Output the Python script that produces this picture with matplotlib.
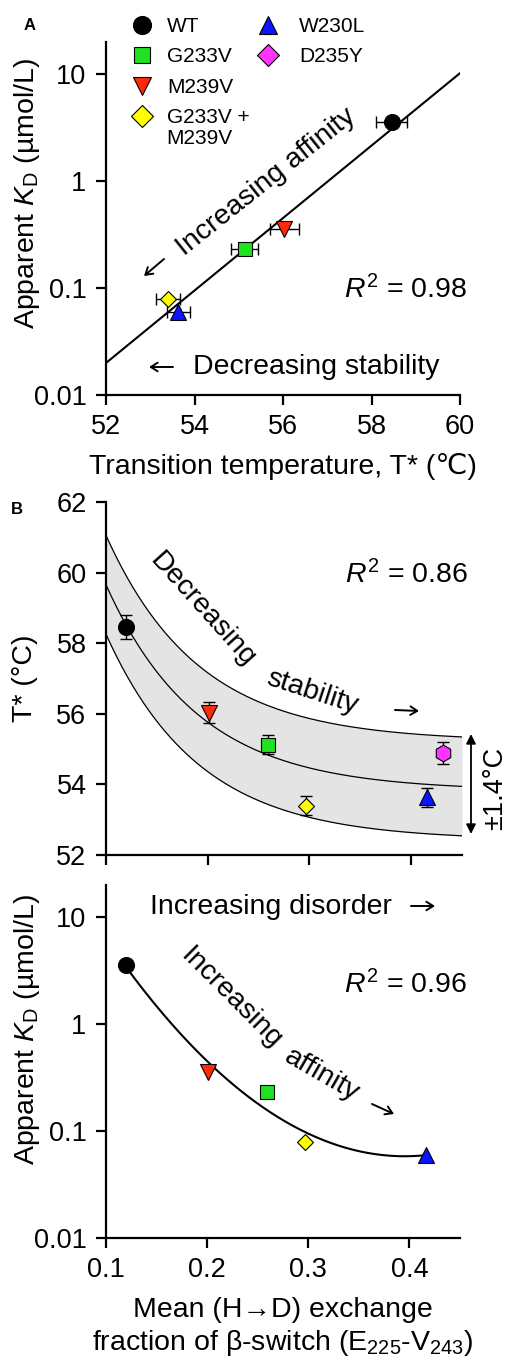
import numpy as np
import matplotlib
matplotlib.use("Agg")
import matplotlib.pyplot as plt
from matplotlib.lines import Line2D
from matplotlib.patches import FancyArrowPatch

plt.rcParams["font.family"] = ["Liberation Sans", "DejaVu Sans"]
plt.rcParams["mathtext.fontset"] = "custom"
plt.rcParams["mathtext.rm"] = "Liberation Sans"
plt.rcParams["mathtext.it"] = "Liberation Sans:italic"

# data
variants = ["WT", "G233V", "M239V", "G233V +\nM239V", "W230L", "D235Y"]
colors = ["#000000", "#22e022", "#ff2a0a", "#ffff00", "#0a14ff", "#ff33ff"]
legend_markers = ["o", "s", "v", "D", "^", "D"]
plot_markers = ["o", "s", "v", "D", "^", "h"]

t_star = [58.46, 55.13, 56.03, 53.40, 53.63, 54.89]      # transition temperature (C)
t_err_a = [0.35, 0.30, 0.33, 0.27, 0.26]                 # horizontal error bars, panel A
t_err_b = [0.35, 0.28, 0.30, 0.28, 0.27, 0.30]           # vertical error bars, panel B
kd = [3.55, 0.23, 0.355, 0.079, 0.060]                   # apparent KD (umol/L), no value for D235Y
hd_frac = [0.12, 0.259, 0.201, 0.297, 0.416, 0.431]      # mean H->D exchange fraction

band_halfwidth = 1.4
decay_rate = 11.0

W, H = 507, 1357
fig = plt.figure(figsize=(W / 100, H / 100), dpi=100)
FS = 20.5


def fp(x, y):
    # pixel position -> figure fraction
    return x / W, 1 - y / H


def arrow(x0, y0, x1, y1):
    # small text-style arrow, tail -> head, in pixels
    fig.add_artist(FancyArrowPatch(fp(x0, y0), fp(x1, y1), transform=fig.transFigure,
                                   arrowstyle="->,head_length=0.35,head_width=0.22",
                                   mutation_scale=14, lw=1.4, color="black",
                                   shrinkA=0, shrinkB=0))


def make_axes(left, top, right, bottom):
    ax = fig.add_axes([left / W, 1 - bottom / H, (right - left) / W, (bottom - top) / H])
    for s in ["top", "right"]:
        ax.spines[s].set_visible(False)
    for s in ["left", "bottom"]:
        ax.spines[s].set_linewidth(1.6)
    ax.tick_params(direction="out", length=7.5, width=1.6, labelsize=19.5, pad=6.5)
    ax.tick_params(which="minor", length=0)
    return ax


ms = [11.5, 10, 11, 8, 11, 12]
edge = 0.8

# ---------------- panel A ----------------
axA = make_axes(106, 42, 460, 395)
axA.set_yscale("log")
axA.set_xlim(52, 60)
axA.set_ylim(0.01, 20)
axA.set_xticks([52, 54, 56, 58, 60])
axA.set_yticks([0.01, 0.1, 1, 10])
axA.set_yticklabels(["0.01", "0.1", "1", "10"])
axA.minorticks_off()

coef = np.polyfit(t_star[:5], np.log10(kd), 1)
tt = np.linspace(52, 60, 100)
axA.plot(tt, 10 ** np.polyval(coef, tt), color="black", lw=1.5, zorder=1)

for i in range(5):
    axA.errorbar(t_star[i], kd[i], xerr=t_err_a[i], fmt="none", ecolor="black",
                 elinewidth=1.0, capsize=4, capthick=1.0, zorder=2)
    axA.plot(t_star[i], kd[i], marker=plot_markers[i], ms=ms[i], color=colors[i],
             mec="black", mew=edge, ls="none", zorder=3)

axA.set_xlabel("Transition temperature, T* (\u2103)", fontsize=FS, labelpad=9)
axA.set_ylabel("Apparent $K_\\mathrm{D}$ (\u00b5mol/L)", fontsize=FS)
axA.yaxis.set_label_coords(-0.181, 0.572)

arrow(164, 259, 144, 276)
fig.text(*fp(266, 182), "Increasing affinity", fontsize=FS, rotation=38.5,
         rotation_mode="anchor", ha="center", va="center")
arrow(173, 367, 149, 367)
fig.text(*fp(316, 367), "Decreasing stability", fontsize=FS, ha="center", va="center")
fig.text(*fp(467, 290), "$R^2$ = 0.98", fontsize=FS, ha="right", va="center")
fig.text(*fp(30, 25), "A", fontsize=12, fontweight="bold", ha="center", va="center")

# legend in two columns; the two-line label keeps its marker on the first line
leg_labels = [v.split("\n")[0] for v in variants]
h1 = [Line2D([], [], marker=legend_markers[i], ms=[13, 12, 13, 11.5][i], color=colors[i],
             mec="black", mew=edge, ls="none") for i in range(4)]
h2 = [Line2D([], [], marker=legend_markers[i], ms=[13.5, 11.5][i - 4], color=colors[i],
             mec="black", mew=edge, ls="none") for i in range(4, 6)]
leg_kw = dict(frameon=False, fontsize=15, borderpad=0, handlelength=1.0,
              labelspacing=0.55, loc="upper left", borderaxespad=0)
fig.legend(h1, leg_labels[:4], bbox_to_anchor=fp(132, 17), handletextpad=0.68, **leg_kw)
fig.legend(h2, leg_labels[4:], bbox_to_anchor=fp(258, 17), handletextpad=0.97, **leg_kw)
fig.text(*fp(166, 139), variants[3].split("\n")[1], fontsize=15, ha="left", va="center")

# ---------------- panel B, T* ----------------
axB = make_axes(106, 502, 462, 855)
axB.set_xlim(0.1, 0.45)
axB.set_ylim(52, 62)
axB.set_xticks([0.1, 0.2, 0.3, 0.4])
axB.set_xticklabels([])
axB.set_yticks([52, 54, 56, 58, 60, 62])

ex = np.exp(-decay_rate * np.array(hd_frac))
b_fit, a_fit = np.polyfit(ex, t_star, 1)
xx = np.linspace(0.1, 0.45, 200)
mid = a_fit + b_fit * np.exp(-decay_rate * xx)
axB.fill_between(xx, mid - band_halfwidth, mid + band_halfwidth, color="#e4e4e4", lw=0, zorder=0)
for off in [-band_halfwidth, 0, band_halfwidth]:
    axB.plot(xx, mid + off, color="black", lw=0.9, zorder=1)

for i in range(6):
    axB.errorbar(hd_frac[i], t_star[i], yerr=t_err_b[i], fmt="none", ecolor="black",
                 elinewidth=1.0, capsize=4, capthick=1.0, zorder=2)
    axB.plot(hd_frac[i], t_star[i], marker=plot_markers[i], ms=ms[i], color=colors[i],
             mec="black", mew=edge, ls="none", zorder=3)

axB.set_ylabel("T* (\u00b0C)", fontsize=FS)
axB.yaxis.set_label_coords(-0.19, 0.5)

fig.text(*fp(202, 610), "Decreasing", fontsize=FS, rotation=-48,
         rotation_mode="anchor", ha="center", va="center")
fig.text(*fp(312, 692), "stability", fontsize=FS, rotation=-18,
         rotation_mode="anchor", ha="center", va="center")
arrow(395, 710, 419, 711)
fig.text(*fp(468, 575), "$R^2$ = 0.86", fontsize=FS, ha="right", va="center")
fig.text(*fp(17, 510), "B", fontsize=12, fontweight="bold", ha="center", va="center")

fig.add_artist(FancyArrowPatch(
    fp(471, 734), fp(471, 834), transform=fig.transFigure, arrowstyle="<|-|>",
    mutation_scale=14, lw=1.3, color="black", shrinkA=0, shrinkB=0))
fig.text(*fp(495, 788), "\u00b11.4\u00b0C", fontsize=19.5, rotation=90, ha="center", va="center")

# ---------------- panel B, KD ----------------
axC = make_axes(106, 885, 460, 1238)
axC.set_yscale("log")
axC.set_xlim(0.1, 0.45)
axC.set_ylim(0.01, 20)
axC.set_xticks([0.1, 0.2, 0.3, 0.4])
axC.set_xticklabels(["0.1", "0.2", "0.3", "0.4"])
axC.set_yticks([0.01, 0.1, 1, 10])
axC.set_yticklabels(["0.01", "0.1", "1", "10"])
axC.minorticks_off()

q = np.polyfit(hd_frac[:5], np.log10(kd), 2)
xq = np.linspace(min(hd_frac[:5]), max(hd_frac[:5]), 200)
axC.plot(xq, 10 ** np.polyval(q, xq), color="black", lw=1.5, zorder=1)

for i in range(5):
    axC.plot(hd_frac[i], kd[i], marker=plot_markers[i], ms=ms[i], color=colors[i],
             mec="black", mew=edge, ls="none", zorder=3)

axC.set_ylabel("Apparent $K_\\mathrm{D}$ (\u00b5mol/L)", fontsize=FS)
axC.yaxis.set_label_coords(-0.181, 0.59)
axC.set_xlabel("Mean (H\u2192D) exchange\nfraction of \u03b2-switch (E$_{225}$-V$_{243}$)",
               fontsize=FS, labelpad=10, linespacing=1.2)

fig.text(*fp(271, 907), "Increasing disorder", fontsize=FS, ha="center", va="center")
arrow(411, 906, 435, 906)
fig.text(*fp(231, 998), "Increasing", fontsize=FS, rotation=-45,
         rotation_mode="anchor", ha="center", va="center")
fig.text(*fp(322, 1075), "affinity", fontsize=FS, rotation=-30,
         rotation_mode="anchor", ha="center", va="center")
arrow(372, 1104, 394, 1114)
fig.text(*fp(467, 985), "$R^2$ = 0.96", fontsize=FS, ha="right", va="center")

fig.savefig("out.png", dpi=100)
